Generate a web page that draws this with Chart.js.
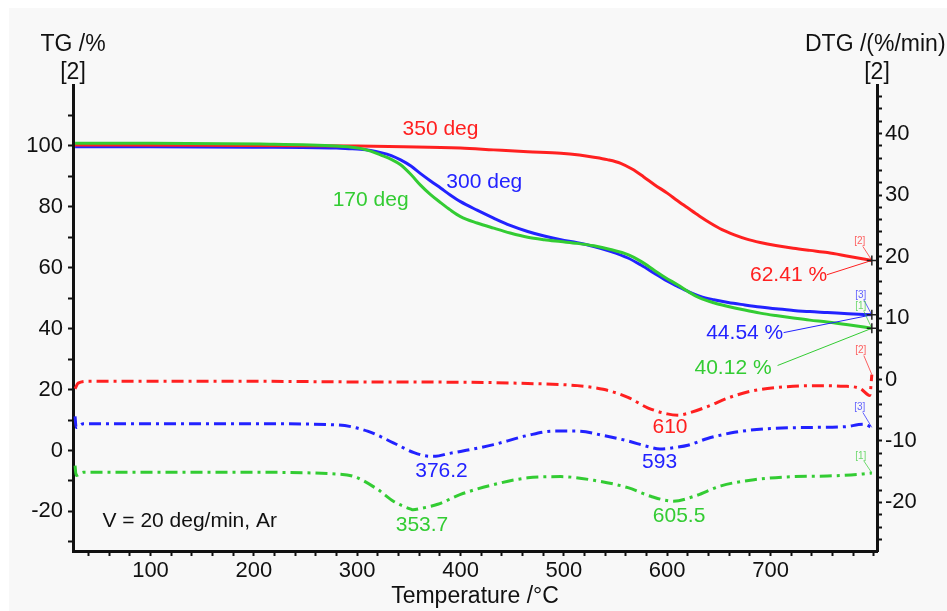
<!DOCTYPE html>
<html><head><meta charset="utf-8">
<script src="https://cdn.jsdelivr.net/npm/chart.js@4.4.1/dist/chart.umd.min.js"></script>
<style>html,body{margin:0;padding:0;background:#fff;overflow:hidden}#wrap{position:relative;width:947px;height:611px}</style>
</head><body><div id="wrap"><canvas id="c" width="947" height="611"></canvas></div>
<script>
// ---- TG curves (left axis, %) ----
const tgT1 = [27, 100, 206, 280, 292, 303, 313, 323, 333, 342, 352, 361, 371, 381, 390, 400, 416, 432, 448, 465, 481, 497, 513, 529, 545, 562, 575, 587, 598, 610, 621, 632, 645, 659, 675, 690, 705, 722, 738, 755, 775, 798];
const tg1  = [100.9, 100.9, 100.6, 100.0, 99.7, 99.2, 98.3, 97.0, 95.6, 93.8, 90.6, 87.2, 84.0, 81.3, 79.0, 76.8, 74.7, 73.0, 71.4, 70.0, 69.2, 68.6, 68.0, 67.2, 66.0, 64.3, 62.0, 59.3, 56.8, 54.4, 52.0, 50.0, 48.5, 47.3, 46.1, 45.1, 44.3, 43.5, 42.8, 42.2, 41.3, 40.12];
const tgT2 = [27, 150, 300, 400, 432, 465, 497, 515, 529, 542, 555, 566, 577, 588, 600, 610, 620, 631, 642, 653, 665, 677, 690, 705, 722, 738, 755, 775, 798];
const tg2  = [100.3, 100.2, 100.0, 99.3, 98.7, 98.1, 97.6, 97.0, 96.3, 95.5, 94.3, 92.4, 89.9, 87.2, 84.5, 82.0, 79.6, 77.0, 74.6, 72.5, 70.8, 69.4, 68.3, 67.3, 66.4, 65.7, 65.0, 63.8, 62.41];
const tgT3 = [27, 100, 200, 280, 292, 303, 313, 323, 333, 342, 352, 361, 371, 381, 390, 400, 416, 432, 448, 465, 481, 497, 513, 529, 545, 562, 575, 587, 598, 610, 621, 632, 645, 659, 675, 690, 705, 722, 738, 755, 775, 798];
const tg3  = [99.7, 99.7, 99.6, 99.3, 99.1, 98.9, 98.5, 97.8, 96.8, 95.4, 93.4, 91.0, 88.5, 86.1, 83.9, 81.7, 78.9, 76.3, 73.9, 71.9, 70.4, 69.2, 68.2, 67.0, 65.4, 63.2, 60.8, 58.3, 56.0, 53.9, 52.1, 50.6, 49.5, 48.6, 47.8, 47.1, 46.5, 46.0, 45.6, 45.3, 44.9, 44.54];

// ---- DTG curves (right axis, %/min) ----
const dtgT1 = [27, 28, 35, 100, 200, 281, 297, 320, 335, 352, 354, 361, 378, 400, 432, 465, 497, 529, 562, 584, 606, 626, 652, 684, 723, 755, 787, 798];
const dtg1  = [-14.0, -15.6, -15.1, -15.1, -15.1, -15.4, -15.8, -17.9, -19.8, -21.1, -21.2, -21.0, -20.3, -18.7, -17.1, -16.0, -15.8, -16.4, -17.6, -19.0, -19.8, -19.0, -17.3, -16.3, -15.8, -15.7, -15.4, -15.2];
const dtgT2 = [27, 30, 40, 200, 300, 400, 465, 513, 538, 562, 581, 600, 610, 620, 639, 659, 681, 707, 739, 771, 787, 796, 798];
const dtg2  = [-1.5, -0.6, -0.3, -0.3, -0.4, -0.45, -0.65, -1.0, -1.6, -2.9, -4.6, -5.6, -5.8, -5.5, -4.4, -3.0, -1.9, -1.3, -1.0, -1.1, -1.5, -2.6, 0.8];
const dtgT3 = [27, 28, 35, 100, 200, 281, 310, 335, 355, 371, 376, 387, 400, 432, 465, 490, 513, 538, 562, 581, 593, 610, 620, 639, 665, 697, 739, 771, 790, 798];
const dtg3  = [-6.0, -7.8, -7.2, -7.2, -7.2, -7.4, -8.4, -10.3, -11.9, -12.5, -12.5, -12.1, -11.7, -10.6, -9.1, -8.4, -8.4, -9.1, -10.0, -10.9, -11.3, -11.0, -10.7, -9.6, -8.6, -8.0, -7.8, -7.7, -7.3, -7.8];

// ---- tick labels ----
const xTickLabels = [100, 200, 300, 400, 500, 600, 700];
const tgTickLabels = [-20, 0, 20, 40, 60, 80, 100];
const dtgTickLabels = [-20, -10, 0, 10, 20, 30, 40];

// ---- annotation texts ----
const annTexts = ['350 deg', '300 deg', '170 deg', '62.41 %', '44.54 %', '40.12 %', '610', '593', '376.2', '353.7', '605.5', 'V = 20 deg/min, Ar'];

const RED = '#ff2020', BLUE = '#2222ff', GREEN = '#33cc33';
const FONT = "'Liberation Sans', Arial, sans-serif";

function pts(xs, ys) { return xs.map((x, i) => ({ x: x, y: ys[i] })); }
function range(a, b, s) { const r = []; for (let v = a; v <= b + 1e-9; v += s) r.push(Math.round(v * 100) / 100); return r; }

const xTicks = range(40, 800, 20);
const yTicks = range(-30, 110, 10);
const y1Ticks = range(-26, 46, 2);

// annotation placement (data coords)
const ann = [
  { i: 0, x: 380.6, y: 105.6, ax: 'y', c: RED },
  { i: 1, x: 423, y: 88.2, ax: 'y', c: BLUE },
  { i: 2, x: 313, y: 82.3, ax: 'y', c: GREEN },
  { i: 3, x: 717.4, y: 57.7, ax: 'y', c: RED },
  { i: 4, x: 675, y: 38.4, ax: 'y', c: BLUE },
  { i: 5, x: 663.7, y: 26.9, ax: 'y', c: GREEN },
  { i: 6, x: 602.7, y: -7.8, ax: 'y1', c: RED },
  { i: 7, x: 592.6, y: -13.5, ax: 'y1', c: BLUE },
  { i: 8, x: 381.6, y: -15.0, ax: 'y1', c: BLUE },
  { i: 9, x: 362.7, y: -23.7, ax: 'y1', c: GREEN },
  { i: 10, x: 611.5, y: -22.3, ax: 'y1', c: GREEN },
  { i: 11, x: 53.5, y: -23.3, ax: 'y', c: '#111', align: 'left' }
];
// leader lines from labels to TG end points
const leaders = [
  { x: 754.5, y: 57.7, ds: 1, c: RED },
  { x: 712.6, y: 38.7, ds: 2, c: BLUE },
  { x: 706.8, y: 27.9, ds: 0, c: GREEN }
];
// small curve tags at series ends
const tags = [
  { t: '[2]', ds: 1, dx: -12, dy: -19, c: RED },
  { t: '[3]', ds: 2, dx: -11, dy: -20, c: BLUE },
  { t: '[1]', ds: 0, dx: -11, dy: -22, c: GREEN },
  { t: '[2]', ds: 4, dx: -11, dy: -24, c: RED },
  { t: '[3]', ds: 5, dx: -12, dy: -20, c: BLUE },
  { t: '[1]', ds: 3, dx: -11, dy: -17, c: GREEN }
];

const bgPlugin = {
  id: 'bg',
  beforeDraw(chart) {
    const ctx = chart.ctx;
    ctx.save();
    ctx.fillStyle = '#f8f8f8';
    ctx.fillRect(9, 8, 938, 603);
    ctx.restore();
  }
};

const annPlugin = {
  id: 'ann',
  afterDatasetsDraw(chart) {
    const ctx = chart.ctx, xs = chart.scales.x;
    ctx.save();
    ctx.textBaseline = 'middle';
    ctx.font = '21px ' + FONT;
    ann.forEach(a => {
      ctx.fillStyle = a.c;
      ctx.textAlign = a.align || 'center';
      ctx.fillText(annTexts[a.i], xs.getPixelForValue(a.x), chart.scales[a.ax].getPixelForValue(a.y));
    });
    ctx.lineWidth = 1;
    leaders.forEach(l => {
      const meta = chart.getDatasetMeta(l.ds);
      const p = meta.data[meta.data.length - 1];
      ctx.strokeStyle = l.c;
      ctx.beginPath();
      ctx.moveTo(xs.getPixelForValue(l.x), chart.scales.y.getPixelForValue(l.y));
      ctx.lineTo(p.x, p.y);
      ctx.stroke();
    });
    ctx.font = '10px ' + FONT;
    tags.forEach(t => {
      const meta = chart.getDatasetMeta(t.ds);
      const p = meta.data[meta.data.length - 1];
      ctx.globalAlpha = 0.7;
      ctx.fillStyle = t.c; ctx.strokeStyle = t.c;
      ctx.textAlign = 'center';
      ctx.fillText(t.t, p.x + t.dx, p.y + t.dy);
      ctx.beginPath();
      ctx.moveTo(p.x + t.dx + 3, p.y + t.dy + 5);
      ctx.lineTo(p.x, p.y);
      ctx.stroke();
      ctx.globalAlpha = 1;
    });
    ctx.strokeStyle = '#222'; ctx.lineWidth = 1.5;
    [0, 1, 2].forEach(d => {
      const meta = chart.getDatasetMeta(d);
      const p = meta.data[meta.data.length - 1];
      ctx.beginPath();
      ctx.moveTo(p.x - 5, p.y); ctx.lineTo(p.x + 5, p.y);
      ctx.moveTo(p.x, p.y - 5); ctx.lineTo(p.x, p.y + 5);
      ctx.stroke();
    });
    ctx.fillStyle = '#111';
    ctx.font = '23px ' + FONT;
    const L = chart.chartArea.left, R = chart.chartArea.right;
    ctx.textAlign = 'center';
    ctx.fillText('TG /%', L, 45);
    ctx.fillText('[2]', L, 73);
    ctx.fillText('[2]', R, 73);
    ctx.textAlign = 'left';
    ctx.fillText('DTG /(%/min)', 805, 45);
    ctx.textAlign = 'center';
    ctx.fillText('Temperature /°C', 475, 597);
    ctx.restore();
  }
};

const tgStyle = { borderWidth: 3, pointRadius: 0, fill: false, cubicInterpolationMode: 'monotone', yAxisID: 'y' };
const dtgStyle = { borderWidth: 3, pointRadius: 0, fill: false, cubicInterpolationMode: 'monotone', yAxisID: 'y1', borderDash: [12, 5, 3, 5] };

const axisCommon = {
  grid: { display: true, drawOnChartArea: false, drawTicks: true, tickLength: 5, tickWidth: 2, tickColor: '#111' },
  border: { display: true, color: '#111', width: 3 }
};

new Chart(document.getElementById('c'), {
  type: 'line',
  data: {
    datasets: [
      Object.assign({ label: 'TG 1', data: pts(tgT1, tg1), borderColor: GREEN }, tgStyle),
      Object.assign({ label: 'TG 2', data: pts(tgT2, tg2), borderColor: RED }, tgStyle),
      Object.assign({ label: 'TG 3', data: pts(tgT3, tg3), borderColor: BLUE }, tgStyle),
      Object.assign({ label: 'DTG 1', data: pts(dtgT1, dtg1), borderColor: GREEN }, dtgStyle),
      Object.assign({ label: 'DTG 2', data: pts(dtgT2, dtg2), borderColor: RED }, dtgStyle),
      Object.assign({ label: 'DTG 3', data: pts(dtgT3, dtg3), borderColor: BLUE }, dtgStyle)
    ]
  },
  options: {
    responsive: false,
    animation: false,
    devicePixelRatio: 1,
    layout: { padding: { top: 85, left: 0, right: 0, bottom: 0 } },
    plugins: { legend: { display: false }, tooltip: { enabled: false } },
    scales: {
      x: Object.assign({
        type: 'linear', position: 'bottom', min: 25, max: 803,
        afterBuildTicks: s => { s.ticks = xTicks.map(v => ({ value: v })); },
        afterFit: s => { s.height = 60; },
        ticks: { autoSkip: false, maxRotation: 0, padding: 2, color: '#111', font: { family: FONT, size: 22 },
          callback: v => xTickLabels.includes(v) ? String(v) : '' }
      }, axisCommon),
      y: Object.assign({
        type: 'linear', position: 'left', min: -33, max: 120,
        afterBuildTicks: s => { s.ticks = yTicks.map(v => ({ value: v })); },
        afterFit: s => { s.width = 73; },
        ticks: { autoSkip: false, padding: 5, color: '#111', font: { family: FONT, size: 22 },
          callback: v => tgTickLabels.includes(v) ? String(v) : '' }
      }, axisCommon),
      y1: Object.assign({
        type: 'linear', position: 'right', min: -27.9, max: 47.9,
        afterBuildTicks: s => { s.ticks = y1Ticks.map(v => ({ value: v })); },
        afterFit: s => { s.width = 70; },
        ticks: { autoSkip: false, padding: 3, color: '#111', font: { family: FONT, size: 22 },
          callback: v => dtgTickLabels.includes(v) ? String(v) : '' }
      }, axisCommon)
    }
  },
  plugins: [bgPlugin, annPlugin]
});
</script>
</body></html>
